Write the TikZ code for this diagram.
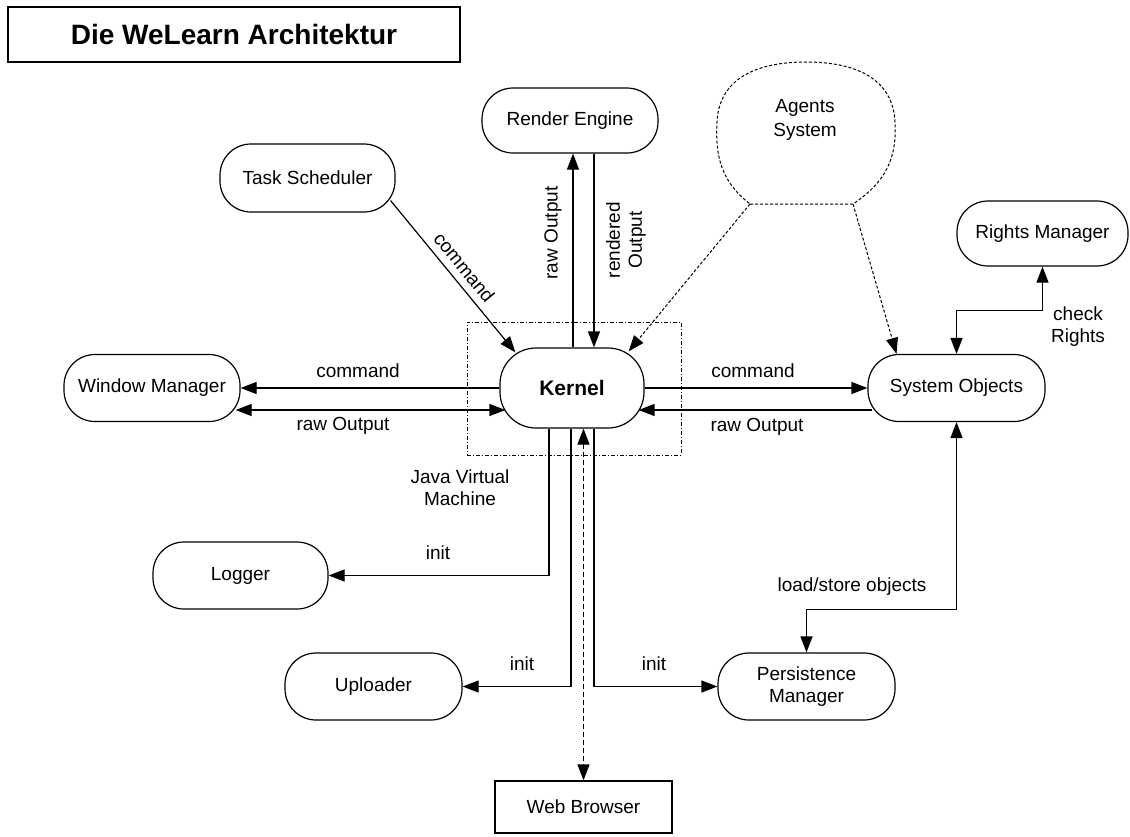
\documentclass[tikz,border=0pt]{standalone}
\usepackage{fontspec}
\setmainfont{Liberation Sans}
\usetikzlibrary{arrows.meta,calc}

\begin{document}
\begin{tikzpicture}[x=1pt,y=-1pt,
  txt/.style={font=\fontsize{19}{22}\selectfont},
  box/.style={draw, line width=1.2pt, rounded corners=31pt, minimum width=176pt,
    minimum height=67pt, align=center, inner sep=0pt, txt},
  lbl/.style={align=center, inner sep=0pt, txt},
  conn/.style={line width=1.2pt, -{Triangle[length=16pt,width=12pt]}},
  conn2/.style={line width=1.2pt, {Triangle[length=16pt,width=12pt]}-{Triangle[length=16pt,width=12pt]}},
  dots/.style={line width=1pt, dash pattern=on 3pt off 2pt},
]
\useasboundingbox (0,0) rectangle (1130,836);

% title
\node[draw, line width=1.2pt, minimum width=452pt, minimum height=55pt,
  font=\fontsize{28}{32}\selectfont\bfseries] (title) at (234,34.5) {Die WeLearn Architektur};

% Java VM boundary around the kernel
\node[draw, line width=0.9pt, dash pattern=on 4pt off 2pt on 1pt off 2pt,
  minimum width=214pt, minimum height=133pt] (jvm) at (574,388.5) {};

% components
\node[box, fill=white, rounded corners=36pt, minimum width=144pt, minimum height=80pt,
  font=\fontsize{21}{24}\selectfont\bfseries] (kernel) at (572,388) {Kernel};
\node[box, minimum height=65pt] (re) at (570,120.5) {Render Engine};
\node[box, minimum width=175pt, minimum height=68pt] (ts) at (307.5,178) {Task Scheduler};
\node[box, minimum width=171pt, minimum height=65pt] (rm) at (1042.5,233.5) {Rights Manager};
\node[box, minimum width=177pt] (so) at (956.5,388) {System Objects};
\node[box] (wm) at (152,388) {Window Manager};
\node[box, minimum width=175pt] (logger) at (240.5,575.5) {Logger};
\node[box, minimum width=177pt] (up) at (373.5,686.5) {Uploader};
\node[box, minimum width=177pt] (pm) at (806.5,686.5) {Persistence\\Manager};
\node[draw, line width=1.2pt, minimum width=177pt, minimum height=52pt, txt] (wb) at (583.5,807) {Web Browser};

% agents system (dashed blob)
\draw[dots] (750,204) -- (853,204)
  .. controls (886,182) and (897,158) .. (895,122)
  .. controls (893,80) and (858,62) .. (806,62)
  .. controls (754,62) and (719,80) .. (717,122)
  .. controls (715,158) and (722,182) .. (750,204) -- cycle;
\node[lbl, font=\fontsize{19}{24}\selectfont] (agents) at (805,120) {Agents\\System};
\coordinate (agL) at (750,204);
\coordinate (agR) at (853,204);

% kernel <-> window manager
\draw[conn] (kernel.west) -- (wm.east);
\draw[conn2] ($(wm.east)+(-5,22)$) -- ($(kernel.west)+(6,22)$);
\node[lbl] (lcmd1) at (358,371) {command};
\node[lbl] (lraw1) at (343,426) {raw Output};

% kernel <-> system objects
\draw[conn] (kernel.east) -- (so.west);
\draw[conn] ($(so.west)+(5,22)$) -- ($(kernel.east)+(-6,22)$);
\node[lbl] (lcmd2) at (753,371) {command};
\node[lbl] (lraw2) at (757,427) {raw Output};

% kernel <-> render engine
\draw[conn] ([xshift=1pt]kernel.north) -- ([xshift=1pt]kernel.north |- re.south);
\draw[conn] ([xshift=22pt]kernel.north |- re.south) -- ([xshift=22pt]kernel.north);
\node[lbl, rotate=90] (lraw3) at (553,233) {raw Output};
\node[lbl, rotate=90] (lrend) at (626,240) {rendered\\Output};

% task scheduler -> kernel
\draw[conn] ($(ts.south east)+(-5,-12)$) -- node[lbl, sloped, above=7pt] (lcmd3) {command}
  ($(kernel.north west)+(16,5)$);

% agents system -> kernel, system objects
\draw[conn, dots] (agL) -- ($(kernel.north east)+(-16,4)$);
\draw[conn, dots] (agR) -- ([xshift=-60pt]so.north);

% system objects <-> rights manager
\draw[conn2] (so.north) |- ($(so.north)!0.5!(rm.south)$) -| (rm.south);
\node[lbl] (lcheck) at (1078,327) {check\\Rights};

% system objects <-> persistence manager
\draw[conn2] (so.south) |- ([yshift=43pt]pm.north) -- (pm.north);
\node[lbl] (lload) at (852,587) {load/store objects};

% init connections
\draw[conn] ([xshift=-23pt]kernel.south) |- (logger.east);
\draw[conn] ([xshift=-1pt]kernel.south) |- (up.east);
\draw[conn] ([xshift=22pt]kernel.south) |- (pm.west);
\node[lbl] (linit1) at (438,553) {init};
\node[lbl] (linit2) at (522,664) {init};
\node[lbl] (linit3) at (654,664) {init};
\node[lbl] (ljvm) at (460,488) {Java Virtual\\Machine};

% kernel <-> web browser
\draw[conn2, dash pattern=on 5pt off 3pt] (wb.north |- kernel.south) -- (wb.north);
\end{tikzpicture}
\end{document}
